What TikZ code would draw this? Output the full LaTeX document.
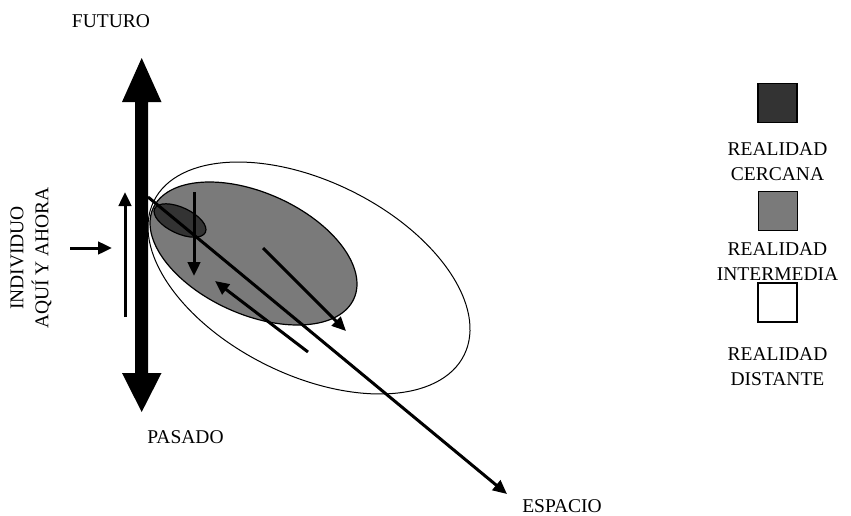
\documentclass[tikz,border=0pt]{standalone}
\usepackage{fontspec}
\setmainfont{Liberation Serif}
\usetikzlibrary{arrows.meta}
\definecolor{darkfill}{HTML}{333333}
\definecolor{midfill}{HTML}{7A7A7A}
\begin{document}
\begin{tikzpicture}[x=1pt,y=-1pt,
  lbl/.style={font=\fontsize{19.5}{25}\selectfont, inner sep=0pt, align=center},
  thin arrow/.style={line width=3pt, -{Triangle[length=14pt,width=12.5pt]}},
  legendbox/.style={draw, line width=1.5pt, minimum size=39pt, inner sep=0pt},
]
\useasboundingbox (0,0) rectangle (851,515);
% realities
\draw[line width=1pt, fill=white, rotate around={-26.4:(309,278)}] (309,278) ellipse [x radius=173.2, y radius=96.8];
\draw[line width=1.2pt, fill=midfill, rotate around={-24.2:(253.5,253.5)}] (253.5,253.5) ellipse [x radius=110.1, y radius=60.8];
\draw[line width=1.2pt, fill=darkfill, rotate around={-25:(180,220.5)}] (180,220.5) ellipse [x radius=28, y radius=13];
% coordinates
\coordinate (espS) at (148,197);
\coordinate (espE) at (507,494);
\coordinate (upS) at (125,317);
\coordinate (upE) at (125,192);
\coordinate (inS) at (70,248);
\coordinate (inE) at (112,248);
\coordinate (dnS) at (194,192);
\coordinate (dnE) at (194,276);
\coordinate (drS) at (263,248);
\coordinate (drE) at (346,331);
\coordinate (ulS) at (308,352);
\coordinate (ulE) at (215,281);
% arrows
\draw[thin arrow] (espS) -- (espE);
\draw[thin arrow] (upS) -- (upE);
\draw[thin arrow] (inS) -- (inE);
\draw[thin arrow] (dnS) -- (dnE);
\draw[thin arrow] (drS) -- (drE);
\draw[thin arrow] (ulS) -- (ulE);
% time axis
\fill (135,102) -- (122,102) -- (141.7,58) -- (161.5,102) -- (148,102) -- (148,373) -- (161.5,373) -- (141.7,412) -- (122,373) -- (135,373) -- cycle;
% labels
\node[lbl] (fut) at (111,21) {FUTURO};
\node[lbl] (pas) at (185.5,437) {PASADO};
\node[lbl] (esp) at (562,506) {ESPACIO};
\node[lbl, rotate=90] (ind) at (31,258) {INDIVIDUO\\AQUÍ Y AHORA};
% legend
\node[legendbox, fill=darkfill] (lc) at (777.5,103) {};
\node[legendbox, fill=midfill] (li) at (778,211) {};
\node[legendbox, fill=white] (ld) at (777.5,302.5) {};
\node[lbl] (tc) at (777.5,162) {REALIDAD\\CERCANA};
\node[lbl] (ti) at (777.5,262) {REALIDAD\\INTERMEDIA};
\node[lbl] (td) at (777.5,367) {REALIDAD\\DISTANTE};
\end{tikzpicture}
\end{document}
